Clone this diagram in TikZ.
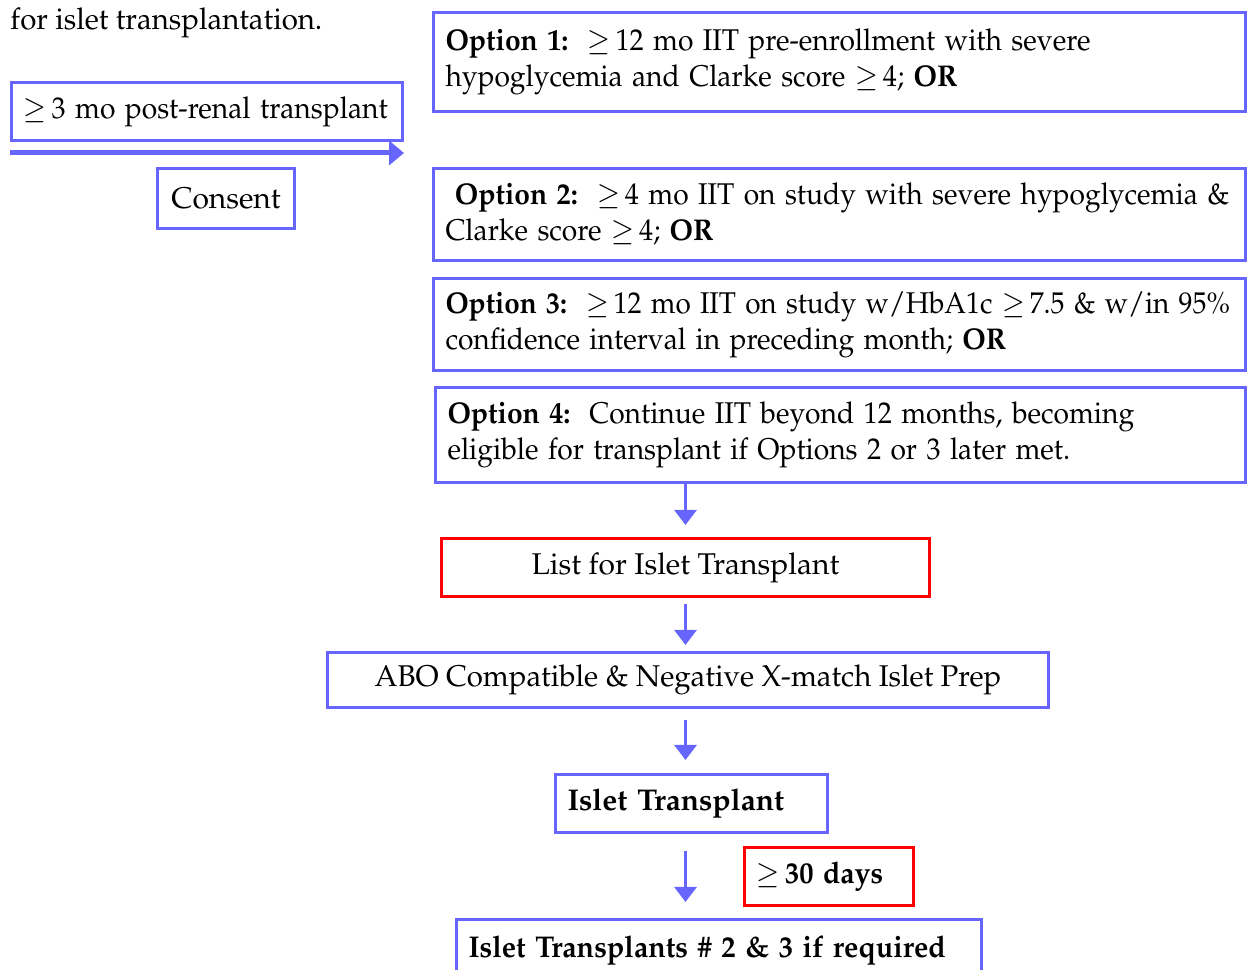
\documentclass[tikz,border=0pt]{standalone}
\usepackage[T1]{fontenc}
\usepackage{mathpazo}
\usepackage{graphicx}
\usetikzlibrary{arrows.meta, positioning}
\definecolor{flowblue}{RGB}{102,102,255}
\definecolor{flowred}{RGB}{255,0,0}
\tikzset{
  box/.style = {draw=flowblue, line width=1.2pt, inner xsep=4.8pt, inner ysep=0pt,
                anchor=north west, font=\fontsize{12}{14.4}\selectfont},
  red box/.style = {box, draw=flowred},
  option/.style = {box, text width=315.2pt, align=left},
  link/.style = {flowblue, line width=1.2pt, arrows={-Triangle[width=8.8pt, length=6pt]}},
  timeline/.style = {flowblue, line width=2pt, arrows={-Triangle[width=9.6pt, length=6pt]}},
}
\newcommand{\atleast}{$\geq$\,}
% one line of an option box, a little narrower than the normal font
\newcommand{\optline}[2][0.94]{\scalebox{#1}[1]{#2}}
\begin{document}
\begin{tikzpicture}[x=0.4pt, y=-0.4pt]
  \useasboundingbox (0,0) rectangle (1248,970);
  \clip (0,0) rectangle (1248,970);

  %% Left column: caption, renal transplant and consent
  \node [anchor=base west, inner sep=0pt, font=\fontsize{12}{14.4}\selectfont]
        (caption) at (10,30) {\scalebox{0.98}[1]{for islet transplantation.}};
  \node [box, text width=146.8pt, minimum height=23.2pt, align=left]
        (renal) at (10,81) {\optline{\atleast 3 mo post-renal transplant}};
  \draw [timeline] ([yshift=-4.4pt] renal.south west) -- ([yshift=-4.4pt] renal.south east);
  \node [box, minimum width=54.8pt, minimum height=24pt] (consent) at (156,167) {Consent};

  %% The four eligibility options
  \node [option, minimum height=39.6pt] (opt1) at (432,11)
        {\optline{\textbf{Option 1:}\ \ \atleast 12 mo IIT pre-enrollment with severe}\\
         \optline{hypoglycemia and Clarke score \atleast 4; \textbf{OR}}};
  \node [option, minimum height=36.8pt] (opt2) at (432,167)
        {\optline{\ \textbf{Option 2:}\ \ \atleast 4 mo IIT on study with severe hypoglycemia \&}\\
         \optline{Clarke score \atleast 4; \textbf{OR}}};
  \node [option, minimum height=36.8pt] (opt3) at (432,277)
        {\optline[0.93]{\textbf{Option 3:}\ \ \atleast 12 mo IIT on study w/HbA1c \atleast 7.5 \& w/in 95\%}\\
         \optline{confidence interval in preceding month; \textbf{OR}}};
  \node [option, text width=314.4pt, minimum height=38pt] (opt4) at (434,386)
        {\optline{\textbf{Option 4:}\ \ Continue IIT beyond 12 months, becoming}\\
         \optline{eligible for transplant if Options 2 or 3 later met.}};

  %% Transplant steps
  \node [red box, minimum width=195.2pt, minimum height=23.2pt] (list) at (440,537)
        {List for Islet Transplant};
  \node [box, minimum width=288.4pt, minimum height=22pt] (abo) at (326,651)
        {\raisebox{2pt}{\scalebox{0.98}[1]{ABO Compatible \& Negative X-match Islet Prep}}};
  \node [box, text width=99.2pt, minimum height=23.2pt, align=left, font=\fontsize{12}{14.4}\bfseries]
        (islet) at (554,773) {Islet Transplant};
  \node [red box, text width=58pt, minimum height=23.2pt, align=left, font=\fontsize{12}{14.4}\bfseries]
        (days) at (743,846) {\scalebox{0.95}[1]{\atleast 30 days}};
  \node [box, text width=200.4pt, minimum height=25pt, align=left, font=\fontsize{12}{14.4}\bfseries]
        (more) at (455,918) {\scalebox{0.955}[1]{Islet Transplants \# 2 \& 3 if required}};

  %% Connect the steps
  \draw [link, shorten >=4.8pt] (list.north |- opt4.south) -- (list.north);
  \draw [link, shorten <=2.4pt, shorten >=2.4pt] (list.south) -- (list.south |- abo.north);
  \draw [link, shorten <=4.4pt, shorten >=5.2pt] (list.south |- abo.south) -- (list.south |- islet.north);
  \draw [link, shorten <=6.8pt, shorten >=6.4pt] (list.south |- islet.south) -- (list.south |- more.north);
\end{tikzpicture}
\end{document}
